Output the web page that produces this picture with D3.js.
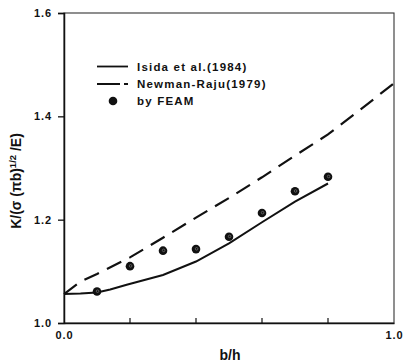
<!DOCTYPE html>
<html><head><meta charset="utf-8">
<script src="https://cdn.jsdelivr.net/npm/d3@7"></script>
<style>
body{margin:0;background:#fff;}
text{font-family:"Liberation Sans",Arial,sans-serif;font-weight:bold;fill:#111;}
</style></head>
<body><svg id="c" width="404" height="363"></svg>
<script>
const isidaX = [0, 0.05, 0.1, 0.14, 0.19, 0.3, 0.4, 0.5, 0.6, 0.7, 0.8];
const isidaY = [1.056, 1.057, 1.059, 1.065, 1.074, 1.093, 1.119, 1.154, 1.195, 1.235, 1.270];
const newmanX = [0, 0.05, 0.1, 0.2, 0.3, 0.4, 0.5, 0.6, 0.7, 0.8, 0.9, 1.0];
const newmanY = [1.056, 1.080, 1.095, 1.127, 1.165, 1.204, 1.242, 1.282, 1.324, 1.365, 1.414, 1.464];
const feamX = [0.1, 0.2, 0.3, 0.4, 0.5, 0.6, 0.7, 0.8];
const feamY = [1.061, 1.110, 1.140, 1.143, 1.167, 1.213, 1.255, 1.283];
const yTicks = [1.0, 1.2, 1.4, 1.6];
const xLabels = [0.0, 1.0];
const xMinor = [0.2, 0.4, 0.6, 0.8];
const legendNames = ["Isida et al.(1984)", "Newman-Raju(1979)", "by FEAM"];

const svg = d3.select("#c");
const x = d3.scaleLinear().domain([0, 1]).range([64, 394]);
const y = d3.scaleLinear().domain([1.0, 1.6]).range([323, 13]);

// frame
svg.append("rect").attr("x", 64).attr("y", 13).attr("width", 330).attr("height", 310)
  .attr("fill", "none").attr("stroke", "#333").attr("stroke-width", 1.1);

// y axis
const ya = svg.append("g").attr("transform", "translate(64,0)")
  .call(d3.axisLeft(y).tickValues(yTicks).tickFormat(d3.format(".1f")).tickSize(6).tickPadding(6));
ya.select(".domain").attr("stroke", "#111").attr("stroke-width", 1.5);
ya.selectAll("line").attr("stroke", "#111").attr("stroke-width", 1.3);
ya.selectAll("text").style("font-size", "11px").style("letter-spacing", "0.9px").attr("fill", "#111");

// x axis labels
const xa = svg.append("g").attr("transform", "translate(0,323)")
  .call(d3.axisBottom(x).tickValues(xLabels).tickFormat(d3.format(".1f")).tickSize(0).tickPadding(8));
xa.select(".domain").attr("stroke", "#111").attr("stroke-width", 1.5);
xa.selectAll("text").style("font-size", "11px").style("letter-spacing", "0.9px").attr("fill", "#111");
// inward minor ticks
svg.append("g").selectAll("line").data(xMinor).join("line")
  .attr("x1", d => x(d)).attr("x2", d => x(d)).attr("y1", 323).attr("y2", 318)
  .attr("stroke", "#111").attr("stroke-width", 1.2);

// axis titles
svg.append("text").attr("x", 230).attr("y", 360).attr("text-anchor", "middle")
  .style("font-size", "14px").text("b/h");
const yt = svg.append("text").attr("transform", "translate(21,181) rotate(-90)")
  .attr("text-anchor", "middle").style("font-size", "14px");
yt.append("tspan").text("K/(σ (πb)");
yt.append("tspan").attr("dy", -5).style("font-size", "9.5px").text("1/2");
yt.append("tspan").attr("dy", 5).text(" /E)");

// lines
const line = d3.line().x(d => x(d[0])).y(d => y(d[1]));
svg.append("path").datum(isidaX.map((v, i) => [v, isidaY[i]]))
  .attr("d", line).attr("fill", "none").attr("stroke", "#111").attr("stroke-width", 2);
svg.append("path").datum(newmanX.map((v, i) => [v, newmanY[i]]))
  .attr("d", line).attr("fill", "none").attr("stroke", "#111").attr("stroke-width", 2.2)
  .attr("stroke-dasharray", "16,9");

// points
svg.append("g").selectAll("circle").data(feamX.map((v, i) => [v, feamY[i]])).join("circle")
  .attr("cx", d => x(d[0])).attr("cy", d => y(d[1])).attr("r", 4.3)
  .attr("fill", "#111");
svg.append("g").selectAll("circle").data(feamX.map((v, i) => [v, feamY[i]])).join("circle")
  .attr("cx", d => x(d[0]) + 0.6).attr("cy", d => y(d[1]) - 0.3).attr("r", 1.3)
  .attr("fill", "none").attr("stroke", "#888").attr("stroke-width", 0.6);

// legend
const lg = svg.append("g");
lg.append("line").attr("x1", 97).attr("x2", 128).attr("y1", 66.5).attr("y2", 66.5)
  .attr("stroke", "#111").attr("stroke-width", 1.8);
lg.append("line").attr("x1", 97).attr("x2", 128).attr("y1", 84).attr("y2", 84)
  .attr("stroke", "#111").attr("stroke-width", 1.8).attr("stroke-dasharray", "23,4");
lg.append("circle").attr("cx", 113).attr("cy", 101).attr("r", 4.3).attr("fill", "#111");
lg.selectAll("text").data(legendNames).join("text")
  .attr("x", 137).attr("y", (d, i) => 70.5 + i * 17.3)
  .style("font-size", "11.5px").style("letter-spacing", "1.2px").text(d => d);
</script></body></html>
